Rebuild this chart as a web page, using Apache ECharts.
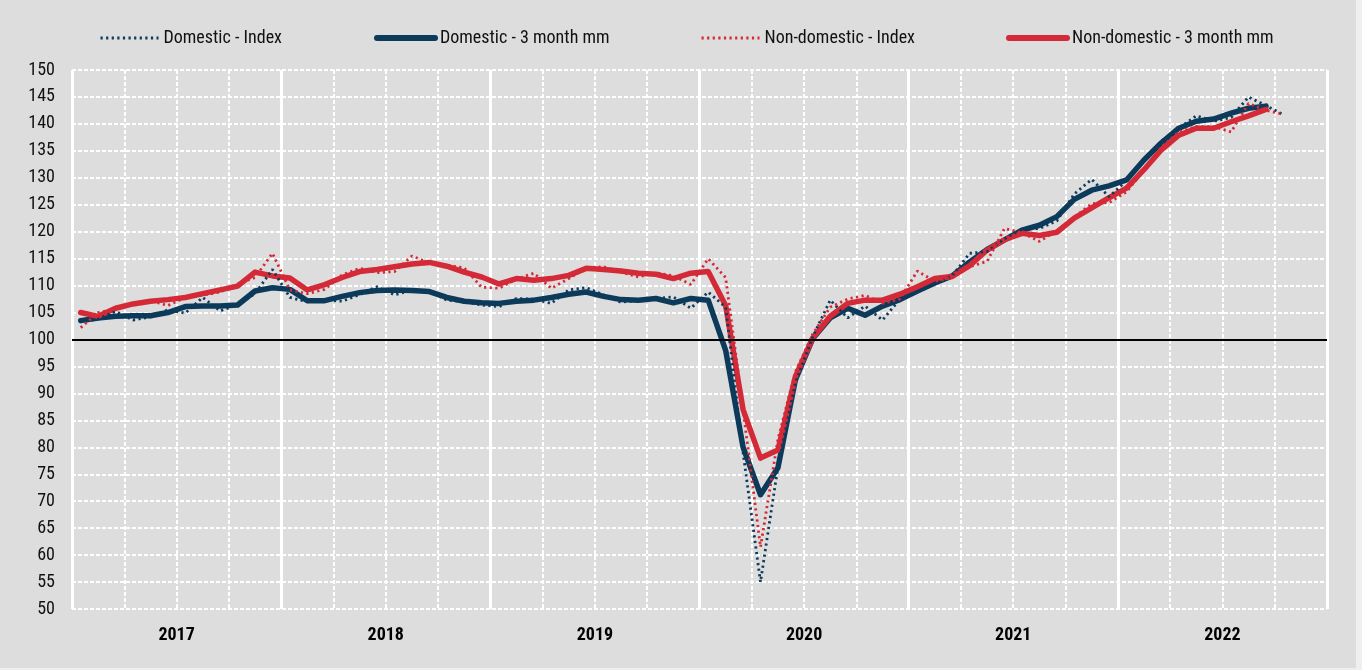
<!DOCTYPE html>
<html>
<head>
<meta charset="utf-8">
<script src="https://cdn.jsdelivr.net/npm/echarts@6/dist/echarts.min.js"></script>
<style>
  html, body { margin: 0; padding: 0; background: #efefef; }
  #chart { width: 1356px; height: 668px; background: #dddddd; }
</style>
</head>
<body>
<div id="chart"></div>
<script>
  // monthly values, Jan 2017 .. Oct 2022 (3 month mm is centred, so it stops a month earlier)
  const years = ['2017', '2018', '2019', '2020', '2021', '2022']

  const domesticIndex = [
    103.3, 103.8, 105.2, 103.6, 104.2, 105.5, 104.9, 107.8, 105.3, 106.5, 108.5, 113.0,
    107.8, 107.0, 107.3, 107.1, 108.3, 109.8, 108.3, 109.1, 109.0, 107.3, 107.0, 106.4,
    106.1, 107.6, 107.5, 106.7, 109.2, 109.6, 108.3, 106.9, 107.3, 107.6, 107.9, 105.8,
    108.8, 106.0, 79.0, 55.0, 76.4, 92.0, 100.5, 107.3, 104.0, 106.2, 103.6, 107.5,
    108.8, 110.3, 111.8, 116.0, 116.3, 118.7, 120.5, 120.6, 122.0, 127.0, 129.7, 126.5,
    129.5, 133.5, 136.8, 139.2, 141.5, 140.5, 141.2, 145.0, 143.4, 141.7
  ]
  const domesticMM = [
    103.5, 104.0, 104.3, 104.4, 104.4, 105.0, 106.1, 106.2, 106.2, 106.4, 109.0, 109.6,
    109.3, 107.2, 107.2, 108.0, 108.7, 109.1, 109.2, 109.1, 108.9, 107.8, 107.1, 106.8,
    106.7, 107.1, 107.3, 107.8, 108.4, 108.8, 108.0, 107.4, 107.3, 107.6, 106.8, 107.6,
    107.3, 98.0, 80.0, 71.2, 76.2, 92.5, 100.2, 104.0, 105.8, 104.5, 106.2, 107.4,
    109.0, 110.5, 111.8, 114.4, 116.7, 118.5, 120.3, 121.2, 122.8, 126.0, 127.7, 128.5,
    129.6, 133.3, 136.5, 139.2, 140.5, 140.9, 142.0, 142.9, 143.3, null
  ]
  const nonDomesticIndex = [
    102.2, 105.0, 105.6, 106.5, 107.2, 106.3, 107.8, 108.2, 108.8, 110.3, 111.5, 116.0,
    109.2, 108.5, 109.3, 112.0, 113.2, 112.4, 112.6, 115.5, 114.2, 113.8, 113.3, 109.7,
    109.5, 111.2, 112.3, 109.5, 111.3, 113.3, 113.5, 112.5, 111.6, 112.4, 111.8, 110.2,
    115.0, 111.5, 87.0, 61.5, 81.5, 94.0, 101.0, 106.0, 107.5, 108.2, 106.7, 107.5,
    112.7, 110.8, 111.5, 113.5, 114.5, 120.6, 119.8, 118.2, 120.2, 122.7, 125.2, 125.4,
    127.4, 131.4, 135.7, 138.5, 139.5, 139.5, 138.5, 143.8, 142.5, 141.8
  ]
  const nonDomesticMM = [
    105.0, 104.3, 105.8, 106.6, 107.1, 107.4, 107.8, 108.5, 109.2, 109.9, 112.5, 111.8,
    111.4, 109.2, 110.2, 111.5, 112.6, 113.0, 113.5, 114.0, 114.3, 113.6, 112.5, 111.6,
    110.3, 111.3, 111.0, 111.3, 111.9, 113.2, 113.0, 112.7, 112.3, 112.1, 111.3, 112.3,
    112.6, 106.3, 87.0, 78.0, 79.5, 93.1, 100.3, 104.3, 106.7, 107.3, 107.3, 108.4,
    109.8, 111.3, 111.7, 113.7, 116.6, 118.5, 119.7, 119.3, 119.9, 122.5, 124.4, 126.3,
    128.1, 131.5, 135.2, 137.9, 139.2, 139.2, 140.4, 141.5, 142.7, null
  ]

  const names = ['Domestic - Index', 'Domestic - 3 month mm', 'Non-domestic - Index', 'Non-domestic - 3 month mm']

  const FONT = '"Roboto Condensed", "Liberation Sans Narrow", "Liberation Sans", Arial, sans-serif'
  const BLUE = '#0b3a5b'
  const RED = '#d42a37'

  // one category per month over the full six years
  let months = []
  for (let y of years) {
    for (let m = 1; m <= 12; m++) months.push(y + '-' + (m < 10 ? '0' + m : m))
  }

  function legendAt (left, name, lineWidth) {
    return {
      data: [name],
      left: left,
      top: 29,
      padding: 0,
      itemWidth: 58,
      itemHeight: 14,
      itemGap: 0,
      itemStyle: { opacity: 0 },
      lineStyle: { width: lineWidth },
      textStyle: { fontFamily: FONT, fontSize: 18, color: '#111' }
    }
  }

  let dotted = { width: 2.8, type: [2.2, 3.4] }
  let solid = { width: 5.5, cap: 'round', join: 'round' }

  let options = {
    animation: false,
    legend: [
      legendAt(99, names[0], 3),
      legendAt(374, names[1], 6),
      legendAt(700, names[2], 3),
      legendAt(1006, names[3], 6)
    ],
    grid: { left: 72, top: 70, width: 1255, height: 539 },
    xAxis: [{
      type: 'category',
      data: months,
      boundaryGap: true,
      axisLine: { show: false },
      axisTick: { show: false },
      axisLabel: { show: false },
      splitLine: {
        show: true,
        interval: function (index) { return index % 3 === 0 && index % 12 !== 0 },
        lineStyle: { color: '#ffffff', width: 2, type: [4, 2] }
      }
    }, {
      type: 'category',
      data: years,
      position: 'bottom',
      boundaryGap: true,
      axisLine: { show: false },
      axisTick: { show: false },
      axisLabel: {
        margin: 17,
        fontFamily: FONT,
        fontSize: 18,
        fontWeight: 'bold',
        color: '#000'
      },
      splitLine: { show: true, lineStyle: { color: '#ffffff', width: 3, type: 'solid' } }
    }],
    yAxis: {
      type: 'value',
      min: 50,
      max: 150,
      interval: 5,
      axisLine: { show: false },
      axisTick: { show: false },
      axisLabel: { margin: 17, fontFamily: FONT, fontSize: 18, color: '#111' },
      splitLine: { lineStyle: { color: '#ffffff', width: 2, type: [4, 2] } }
    },
    series: [{
      // only carries the black line at 100, kept under the data lines
      type: 'line',
      data: [],
      silent: true,
      markLine: {
        silent: true,
        symbol: 'none',
        label: { show: false },
        lineStyle: { color: '#000', width: 2, type: 'solid' },
        data: [{ yAxis: 100 }]
      }
    }, {
      name: names[1],
      type: 'line',
      data: domesticMM,
      symbol: 'none',
      color: BLUE,
      lineStyle: solid
    }, {
      name: names[3],
      type: 'line',
      data: nonDomesticMM,
      symbol: 'none',
      color: RED,
      lineStyle: solid
    }, {
      name: names[0],
      type: 'line',
      data: domesticIndex,
      symbol: 'none',
      color: BLUE,
      lineStyle: dotted
    }, {
      name: names[2],
      type: 'line',
      data: nonDomesticIndex,
      symbol: 'none',
      color: RED,
      lineStyle: dotted
    }]
  }

  let chart = echarts.init(document.getElementById('chart'))
  chart.setOption(options)
</script>
</body>
</html>
